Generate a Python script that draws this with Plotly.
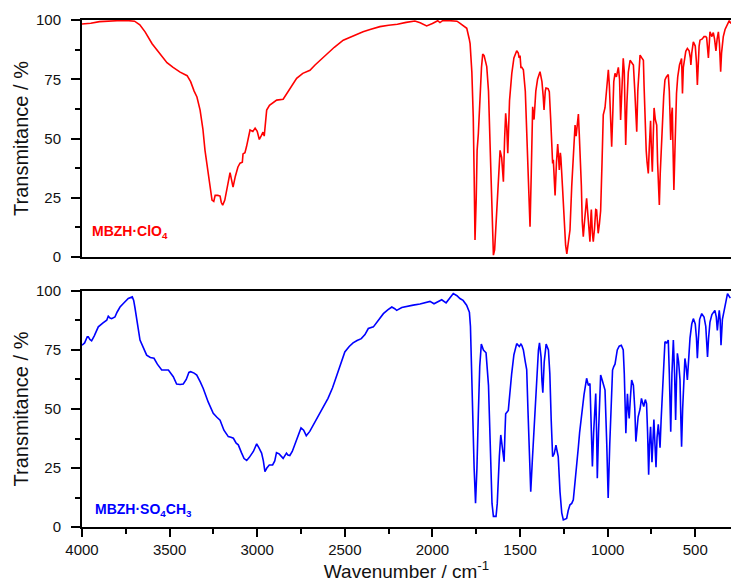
import plotly.graph_objects as go

# ---------------- data ----------------
clo4_wn = [4000, 3950, 3900, 3850, 3800, 3750, 3700, 3670, 3640, 3600, 3560, 3515, 3480, 3440, 3400, 3380, 3360, 3344, 3326, 3310,
           3298, 3285, 3270, 3258, 3248, 3240, 3225, 3212, 3205, 3197, 3185, 3170, 3155, 3145, 3138, 3125, 3110, 3098, 3085, 3081,
           3070, 3061, 3050, 3041, 3025, 3012, 3000, 2988, 2978, 2967, 2960, 2950, 2946, 2930, 2910, 2889, 2852, 2830, 2800, 2775,
           2740, 2699, 2670, 2642, 2600, 2560, 2509, 2450, 2396, 2356, 2300, 2250, 2200, 2150, 2100, 2070, 2033, 2000, 1970, 1957,
           1940, 1900, 1860, 1842, 1820, 1804, 1790, 1785, 1775, 1767, 1762, 1757, 1750, 1745, 1738, 1728, 1720, 1713, 1705, 1690,
           1680, 1670, 1660, 1652, 1645, 1635, 1625, 1614, 1605, 1600, 1595, 1588, 1582, 1576, 1570, 1560, 1547, 1535, 1519, 1510,
           1505, 1500, 1495, 1490, 1481, 1470, 1460, 1450, 1443, 1436, 1428, 1424, 1420, 1410, 1400, 1386, 1375, 1368, 1363, 1356,
           1352, 1340, 1333, 1325, 1318, 1314, 1310, 1305, 1300, 1292, 1285, 1280, 1276, 1270, 1267, 1258, 1250, 1240, 1233, 1225,
           1215, 1205, 1195, 1186, 1180, 1172, 1167, 1162, 1158, 1150, 1145, 1139, 1132, 1125, 1120, 1113, 1101, 1095, 1093, 1087,
           1082, 1075, 1068, 1063, 1054, 1047, 1040, 1032, 1025, 1015, 1006, 1000, 996, 990, 985, 977, 970, 965, 958, 950,
           939, 932, 926, 920, 915, 911, 905, 897, 890, 882, 872, 862, 853, 845, 838, 834, 828, 820, 815, 805,
           796, 792, 787, 780, 775, 768, 763, 758, 755, 750, 745, 740, 735, 728, 720, 715, 710, 705, 700, 692,
           685, 680, 673, 665, 654, 648, 644, 640, 635, 631, 628, 622, 616, 610, 607, 600, 590, 578, 573, 568,
           560, 554, 545, 535, 528, 525, 520, 511, 500, 493, 488, 483, 478, 473, 460, 450, 440, 435, 430, 425,
           420, 416, 405, 397, 390, 382, 375, 368, 362, 358, 355, 350, 345, 340, 330, 321, 306, 296]
clo4_t = [98.3, 98.6, 99.3, 99.6, 99.7, 99.8, 99.5, 98, 95, 90, 86, 82, 80, 78, 76.5, 74, 70, 67.5, 62, 54,
          45, 38, 30, 24, 23.5, 26, 26, 25.7, 23, 21.9, 24, 30, 35.6, 32, 29.5, 34, 38, 39.6, 40, 43.5,
          44, 46.6, 50, 53.6, 53, 54.4, 53, 49.6, 51, 52.7, 51, 58, 62, 64, 65, 66.2, 66.6, 69, 72.5, 75.4,
          77.5, 78.8, 81, 83, 86, 88.5, 91.5, 93.5, 95, 96, 97.2, 97.8, 98.2, 99, 99.6, 98.8, 97.5, 98.5, 99.7, 98.9,
          99.8, 99.7, 99.5, 98.6, 97.5, 96.5, 92, 90, 78, 59, 35, 7.2, 25, 45, 52, 70, 80, 85.6, 85, 80.3,
          70, 45, 15, 0.8, 3, 15, 30, 45, 42, 35, 31.8, 50, 60.6, 55, 43.8, 66, 77.5, 84, 87, 86,
          84, 85, 80, 80, 79, 70, 50, 30, 12.8, 35, 63.4, 60, 58, 70, 75, 78.2, 74, 68, 62, 70,
          71.3, 71, 69.8, 58, 45, 39.5, 41, 30, 26, 40, 47.7, 42, 36.7, 44, 42, 30, 18, 5, 1.3, 6,
          11.4, 30, 45, 55.7, 51, 58, 60.3, 52, 46, 30, 15, 8.6, 15, 23, 24.8, 18, 6.5, 18, 20, 10,
          6.5, 12, 20, 19.8, 10, 14, 19.5, 40, 60, 63, 71.9, 74, 79, 72, 60, 46.5, 62, 74, 77.5, 76,
          80, 75, 57.8, 70, 80, 83.8, 78, 47.3, 65, 78, 83, 82, 81, 70, 60, 52.9, 70, 82, 85.2, 84,
          83, 72, 55, 45, 40, 35.3, 45, 55, 57.5, 45, 36, 50, 62.9, 58, 55.7, 40, 30, 22, 35, 49,
          55, 68, 74.7, 76, 77, 70, 60, 49.4, 60, 63, 50, 28.3, 45, 62, 69, 76, 81, 83.8, 69, 80,
          85, 86.8, 88, 87, 84, 81, 86, 90.8, 89, 82, 72.6, 82, 89, 91.5, 92, 93, 93, 92.6, 88, 84,
          90, 95, 93, 94.7, 92, 87, 92, 95, 90, 85, 78.2, 86, 91, 93, 96, 97.7, 99.7, 98.5]

so4_wn = [4000, 3985, 3970, 3964, 3955, 3945, 3930, 3907, 3880, 3859, 3850, 3840, 3831, 3812, 3800, 3783, 3760, 3736, 3713, 3705,
          3698, 3685, 3669, 3650, 3631, 3610, 3589, 3570, 3545, 3507, 3490, 3479, 3460, 3440, 3422, 3405, 3390, 3380, 3360, 3345,
          3325, 3308, 3280, 3251, 3230, 3212, 3190, 3165, 3150, 3136, 3120, 3108, 3090, 3075, 3060, 3045, 3022, 3003, 2990, 2975,
          2965, 2956, 2945, 2931, 2912, 2900, 2890, 2875, 2852, 2840, 2833, 2825, 2814, 2800, 2785, 2765, 2750, 2735, 2720, 2700,
          2680, 2660, 2634, 2615, 2596, 2570, 2548, 2525, 2500, 2475, 2453, 2430, 2406, 2385, 2366, 2337, 2310, 2280, 2255, 2232,
          2215, 2204, 2175, 2147, 2110, 2071, 2040, 2014, 1991, 1970, 1947, 1922, 1900, 1881, 1860, 1843, 1825, 1805, 1789, 1783,
          1777, 1770, 1762, 1754, 1746, 1738, 1730, 1721, 1709, 1694, 1680, 1670, 1660, 1652, 1637, 1630, 1624, 1618, 1610, 1604,
          1599, 1591, 1586, 1582, 1567, 1558, 1548, 1535, 1519, 1504, 1495, 1490, 1481, 1470, 1462, 1455, 1448, 1439, 1430, 1414,
          1405, 1395, 1389, 1380, 1375, 1370, 1362, 1351, 1338, 1330, 1322, 1314, 1305, 1295, 1288, 1282, 1272, 1262, 1253, 1234,
          1225, 1215, 1205, 1196, 1185, 1175, 1167, 1160, 1148, 1135, 1120, 1110, 1101, 1095, 1087, 1080, 1068, 1063, 1059, 1052,
          1040, 1030, 1015, 1005, 997, 988, 978, 972, 965, 958, 945, 934, 922, 911, 905, 896, 891, 887, 882, 877,
          870, 863, 853, 845, 839, 832, 826, 815, 807, 800, 794, 785, 778, 772, 766, 761, 755, 747, 740, 736,
          730, 724, 718, 711, 705, 701, 695, 690, 682, 673, 663, 654, 648, 640, 633, 625, 618, 612, 607, 602,
          595, 587, 582, 578, 572, 565, 559, 552, 545, 530, 520, 511, 500, 493, 488, 482, 475, 463, 450, 440,
          430, 424, 416, 405, 388, 380, 374, 368, 363, 358, 353, 345, 330, 316, 300]
so4_t = [77, 78, 80.6, 80.6, 79.5, 78.9, 81, 84.8, 86.5, 87.6, 89.3, 88.5, 88.3, 89, 91, 93.2, 95, 96.8, 97.5, 96,
         93, 86, 79.2, 76, 72.8, 71.8, 71.5, 69, 66.5, 66.5, 65, 63.7, 60.6, 60.4, 60.6, 62.5, 65.5, 65.8, 65.2, 64.4,
         61.5, 58.7, 53, 48.2, 46.5, 45.3, 41, 38.3, 38, 37.6, 35.5, 34.8, 31.5, 29, 28.2, 29.5, 32, 35.2, 33.5, 31.3,
         28, 23.5, 25, 26.3, 26.3, 28, 31.5, 31, 29.1, 30.5, 31.3, 30.5, 30.3, 32, 34.8, 39, 42, 41, 38.7, 40.5,
         43.2, 45.5, 49.6, 52, 54.5, 59, 63.7, 69, 74.2, 76.5, 78, 79, 79.8, 81.5, 84.1, 84.8, 87.5, 90.4, 92, 93.2,
         92.5, 91.8, 93, 93.5, 94, 94.5, 95, 95.6, 94.6, 95.5, 96.3, 95, 97, 98.9, 98, 96.8, 96, 94, 91, 85,
         67.9, 45, 25, 10.1, 25, 48, 68, 77.5, 75, 73.8, 60, 35, 10, 4.5, 4.5, 10, 21.4, 30, 39, 36,
         31.7, 27.7, 40, 48, 49.4, 58, 64.8, 73, 77.7, 76.5, 77.5, 77, 75, 70, 66.7, 50, 30, 15, 28, 48.4,
         65, 75, 78, 72, 62, 56.9, 70, 77.5, 75, 65, 45, 29.8, 31, 34.7, 32, 29.8, 15, 6, 3, 3.6,
         7, 9.4, 10, 11.5, 20, 30, 34, 40, 48, 56, 63, 60, 60.8, 45, 25.6, 40, 56.6, 40, 20.7, 40,
         64.4, 62, 58, 35, 12.3, 35, 60, 66.5, 68, 69, 75, 76.6, 77, 75, 65, 39.7, 50, 56.4, 50, 46,
         55, 62.3, 60, 50, 36.2, 44, 46.7, 50, 54.5, 52.5, 51, 54, 52.3, 40, 22.1, 35, 42.5, 27.4, 40, 45.5,
         35, 25.3, 38, 43.5, 38, 33.6, 45, 53.8, 70, 78.5, 78, 79.2, 65, 40.4, 65, 79.2, 65, 45.3, 62, 73.6,
         70, 62.3, 45, 34, 50, 65, 71.4, 68, 62.3, 80, 86, 88.3, 86, 80, 71.5, 80, 88, 90.4, 89, 85,
         72, 80, 86.8, 90, 91.8, 89, 83.3, 88, 91.8, 88, 77, 88, 94.6, 98.9, 97]

x_ticks = [4000, 3500, 3000, 2500, 2000, 1500, 1000, 500]
y_ticks = [0, 25, 50, 75, 100]
label_top = "<b>MBZH·ClO<sub>4</sub></b>"
label_bottom = "<b>MBZH·SO<sub>4</sub>CH<sub>3</sub></b>"
x_title = "Wavenumber / cm<sup>-1</sup>"
y_title = "Transmitance / %"

# ---------------- figure ----------------
FONT = "Liberation Sans, Arial, sans-serif"
XR = [4000, 296]

fig = go.Figure()
fig.add_trace(go.Scatter(x=clo4_wn, y=clo4_t, mode="lines", line=dict(color="#ff0000", width=1.6),
                         xaxis="x", yaxis="y", showlegend=False))
fig.add_trace(go.Scatter(x=so4_wn, y=so4_t, mode="lines", line=dict(color="#0000ff", width=1.6),
                         xaxis="x2", yaxis="y2", showlegend=False))

yax_common = dict(range=[0, 100], tickvals=y_ticks, ticks="outside", ticklen=9, tickwidth=1.5,
                  tickcolor="black", showline=True, linecolor="black", linewidth=2, showgrid=False,
                  zeroline=False, tickfont=dict(family=FONT, size=15, color="#111"), ticklabelstandoff=7,
                  minor=dict(ticks="outside", ticklen=5, tickwidth=1.5, tickcolor="black", dtick=12.5, tick0=0,
                             showgrid=False),
                  title=dict(text=y_title, font=dict(family=FONT, size=20, color="#111"), standoff=2))

fig.update_layout(
    width=731, height=586,
    margin=dict(l=82, r=0, t=20, b=59, autoexpand=False),
    paper_bgcolor="white", plot_bgcolor="white",
    xaxis=dict(domain=[0, 1], anchor="y", range=XR, showline=True, mirror=True, linecolor="black", linewidth=2,
               showticklabels=False, ticks="", showgrid=False, zeroline=False),
    yaxis=dict(domain=[0.5325, 1], anchor="x", **yax_common),
    xaxis2=dict(domain=[0, 1], anchor="y2", range=XR, showline=True, mirror=True, linecolor="black", linewidth=2,
                tickvals=x_ticks, ticks="outside", ticklen=8, tickwidth=1.5, tickcolor="black",
                minor=dict(ticks="outside", ticklen=5, tickwidth=1.5, tickcolor="black", dtick=250, tick0=0,
                           showgrid=False),
                showgrid=False, zeroline=False, tickfont=dict(family=FONT, size=15, color="#111"),
                title=dict(text=x_title, font=dict(family=FONT, size=19, color="#111"), standoff=6)),
    yaxis2=dict(domain=[0, 0.4655], anchor="x2", **yax_common),
)

fig.add_annotation(x=3955, y=10.5, xref="x", yref="y", text=label_top, showarrow=False,
                   xanchor="left", yanchor="middle", font=dict(family=FONT, size=14, color="#ff0000"))
fig.add_annotation(x=3940, y=7, xref="x2", yref="y2", text=label_bottom, showarrow=False,
                   xanchor="left", yanchor="middle", font=dict(family=FONT, size=14, color="#0000ff"))

fig.write_html("out.html", config={"displayModeBar": False},
               post_script="document.body.style.margin='0';document.body.style.overflow='hidden';")
